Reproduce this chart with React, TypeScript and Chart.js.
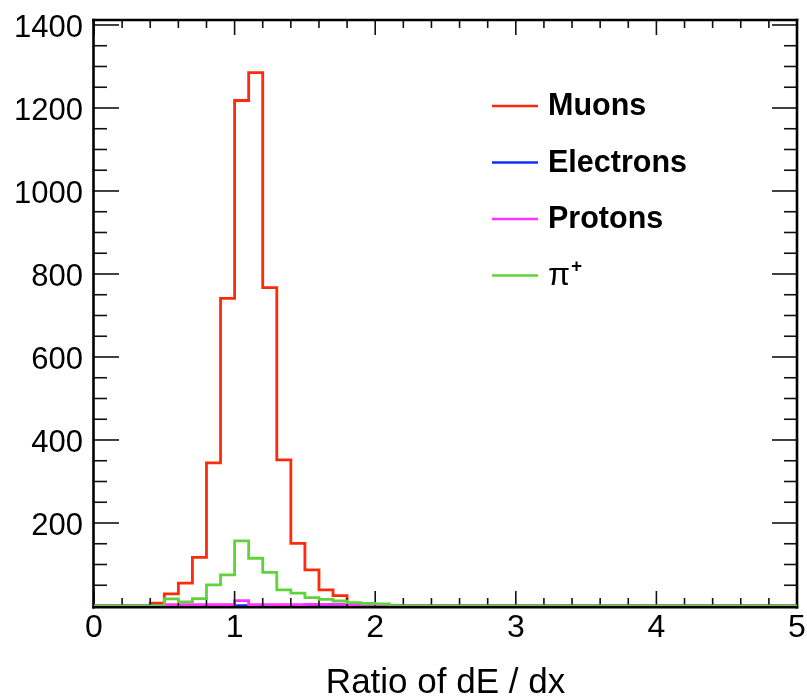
import React, { useEffect, useRef } from "react";
import { Chart, registerables } from "chart.js";

Chart.register(...registerables);

// ---- data ----
const X_MIN = 0;
const X_MAX = 5;
const BIN_WIDTH = 0.1;
const X_MINOR_STEP = 0.2;
const X_TICKS = [0, 1, 2, 3, 4, 5];
const Y_MIN = 0;
const Y_MAX = 1412;
const Y_TICKS = [200, 400, 600, 800, 1000, 1200, 1400];
const Y_MAJOR_STEP = 200;
const Y_MINOR_STEP = 50;
const X_TITLE = "Ratio of dE / dx";

const SERIES_LABELS = ["Muons", "Electrons", "Protons", "π⁺"];
const SERIES_COLORS = ["#ff2a0a", "#1030ff", "#ff33ff", "#5ed43a"];

// bin contents, bins of width 0.1 from 0 to 5
const muons = [
  0, 0, 0, 0, 7, 29, 55, 117, 345, 741,
  1218, 1285, 767, 352, 151, 87, 39, 25, 0, 0,
  0, 0, 0, 0, 0, 0, 0, 0, 0, 0,
  0, 0, 0, 0, 0, 0, 0, 0, 0, 0,
  0, 0, 0, 0, 0, 0, 0, 0, 0, 0,
];
const electrons = [
  0, 0, 0, 0, 0, 0, 0, 0, 0, 0,
  1, 0, 0, 0, 0, 2, 2, 0, 0, 0,
  0, 0, 0, 0, 0, 0, 0, 0, 0, 0,
  0, 0, 0, 0, 0, 0, 0, 0, 0, 0,
  0, 0, 0, 0, 0, 0, 0, 0, 0, 0,
];
const protons = [
  0, 0, 0, 0, 0, 3, 3, 3, 3, 3,
  13, 3, 3, 3, 3, 4, 4, 4, 3, 3,
  3, 0, 0, 0, 0, 0, 0, 0, 0, 0,
  0, 0, 0, 0, 0, 0, 0, 0, 0, 0,
  0, 0, 0, 0, 0, 0, 0, 0, 0, 0,
];
const pions = [
  0, 0, 0, 0, 0, 17, 10, 18, 51, 75,
  157, 115, 81, 39, 31, 20, 16, 12, 8, 6,
  5, 0, 0, 0, 0, 0, 0, 0, 0, 0,
  0, 0, 0, 0, 0, 0, 0, 0, 0, 0,
  0, 0, 0, 0, 0, 0, 0, 0, 0, 0,
];

const SERIES = [muons, electrons, protons, pions];
// draw order: muons first, then electrons, protons, pions on top
const DRAW_ORDER = [3, 2, 1, 0];

const FONT = '"Liberation Sans", Arial, Helvetica, sans-serif';

function toSteps(values: number[]) {
  const pts = values.map((v, i) => ({ x: X_MIN + i * BIN_WIDTH, y: v }));
  pts.push({ x: X_MAX, y: values[values.length - 1] });
  return pts;
}

function drawFrameAndTicks(chart: any) {
  const { ctx, chartArea: a, scales } = chart;
  const xs = scales.x;
  const ys = scales.y;
  ctx.save();
  ctx.strokeStyle = "#111";
  ctx.lineWidth = 1.6;
  const seg = (x1: number, y1: number, x2: number, y2: number) => {
    ctx.beginPath();
    ctx.moveTo(x1, y1);
    ctx.lineTo(x2, y2);
    ctx.stroke();
  };
  const nx = Math.round((X_MAX - X_MIN) / X_MINOR_STEP);
  for (let i = 0; i <= nx; i++) {
    const v = X_MIN + i * X_MINOR_STEP;
    const major = Math.abs(v - Math.round(v)) < 1e-6;
    const px = xs.getPixelForValue(v);
    const len = major ? 15 : 8;
    seg(px, a.bottom, px, a.bottom - len);
    seg(px, a.top, px, a.top + len);
  }
  for (let v = Y_MIN; v <= Y_MAX; v += Y_MINOR_STEP) {
    const major = v % Y_MAJOR_STEP === 0;
    const py = ys.getPixelForValue(v);
    const len = major ? 25 : 13;
    seg(a.left, py, a.left + len, py);
    seg(a.right, py, a.right - len, py);
  }
  ctx.strokeStyle = "#000";
  ctx.lineWidth = 2.6;
  ctx.lineCap = "square";
  seg(a.left - 0.5, a.top, a.right, a.top);
  seg(a.right, a.top, a.right, a.bottom + 1.3);
  seg(a.left - 0.5, a.top, a.left - 0.5, a.bottom + 1.3);
  seg(a.left - 0.5, a.bottom + 1.3, a.right, a.bottom + 1.3);
  ctx.restore();
}

const framePlugin = {
  id: "rootFrame",
  afterDatasetDraw(chart: any, args: any) {
    if (args.index === 2) drawFrameAndTicks(chart);
  },
};

const legendPlugin = {
  id: "rootLegend",
  afterDraw(chart: any) {
    const { ctx, chartArea: a } = chart;
    ctx.save();
    const lineX0 = a.left + 398;
    const lineX1 = a.left + 444;
    const textX = a.left + 454;
    const y0 = 106;
    const dy = 56.5;
    chart.data.datasets.forEach((ds: any, i: number) => {
      const y = y0 + i * dy;
      ctx.strokeStyle = ds.borderColor;
      ctx.lineWidth = 2.4;
      ctx.beginPath();
      ctx.moveTo(lineX0, y);
      ctx.lineTo(lineX1, y);
      ctx.stroke();
      ctx.fillStyle = "#000";
      ctx.textBaseline = "middle";
      ctx.textAlign = "left";
      const label: string = ds.label;
      if (label.endsWith("⁺")) {
        const base = label.slice(0, -1);
        ctx.font = `32px ${FONT}`;
        ctx.fillText(base, textX, y + 1);
        const w = ctx.measureText(base).width;
        ctx.font = `bold 19px ${FONT}`;
        ctx.fillText("+", textX + w + 1, y - 9);
      } else {
        ctx.font = `bold 30.5px ${FONT}`;
        ctx.fillText(label, textX, y + 1);
      }
    });
    ctx.restore();
  },
};

export default function App() {
  const ref = useRef<HTMLCanvasElement | null>(null);
  useEffect(() => {
    document.body.style.margin = "0";
    const canvas = ref.current;
    if (!canvas) return;
    const chart = new Chart(canvas, {
      type: "line",
      data: {
        datasets: SERIES.map((vals, i) => ({
          label: SERIES_LABELS[i],
          data: toSteps(vals),
          borderColor: SERIES_COLORS[i],
          backgroundColor: SERIES_COLORS[i],
          borderWidth: 2.8,
          pointRadius: 0,
          fill: false,
          stepped: true,
          order: DRAW_ORDER[i],
        })),
      },
      options: {
        animation: false,
        responsive: false,
        devicePixelRatio: 1,
        layout: { padding: { top: 20, right: 10, left: 0, bottom: 0 } },
        plugins: {
          legend: { display: false },
          tooltip: { enabled: false },
        },
        scales: {
          x: {
            type: "linear",
            min: X_MIN,
            max: X_MAX,
            border: { display: false },
            grid: { display: false, drawTicks: false },
            afterBuildTicks: (s: any) => {
              s.ticks = X_TICKS.map((v) => ({ value: v }));
            },
            ticks: {
              padding: 3,
              color: "#000",
              autoSkip: false,
              font: { family: FONT, size: 32 },
              maxRotation: 0,
              callback: (v: any) => String(v),
            },
            title: {
              display: true,
              text: X_TITLE,
              color: "#000",
              font: { family: FONT, size: 35, lineHeight: 1 },
              padding: { top: 0, bottom: -4 },
              align: "center",
            },
            afterFit: (s: any) => {
              s.height = 91;
              s.paddingLeft = 0;
              s.paddingRight = 0;
            },
          },
          y: {
            type: "linear",
            min: Y_MIN,
            max: Y_MAX,
            border: { display: false },
            grid: { display: false, drawTicks: false },
            afterBuildTicks: (s: any) => {
              s.ticks = Y_TICKS.map((v) => ({ value: v }));
            },
            ticks: {
              padding: 11,
              labelOffset: 3,
              color: "#000",
              autoSkip: false,
              font: { family: FONT, size: 31 },
              callback: (v: any) => String(v),
            },
            afterFit: (s: any) => {
              s.width = 94;
              s.paddingTop = 0;
              s.paddingBottom = 0;
            },
          },
        },
      },
      plugins: [framePlugin, legendPlugin],
    });
    return () => chart.destroy();
  }, []);
  return (
    <div style={{ position: "absolute", left: 0, top: 0, width: 807, height: 697, background: "#fff" }}>
      <canvas ref={ref} width={807} height={697} />
    </div>
  );
}
